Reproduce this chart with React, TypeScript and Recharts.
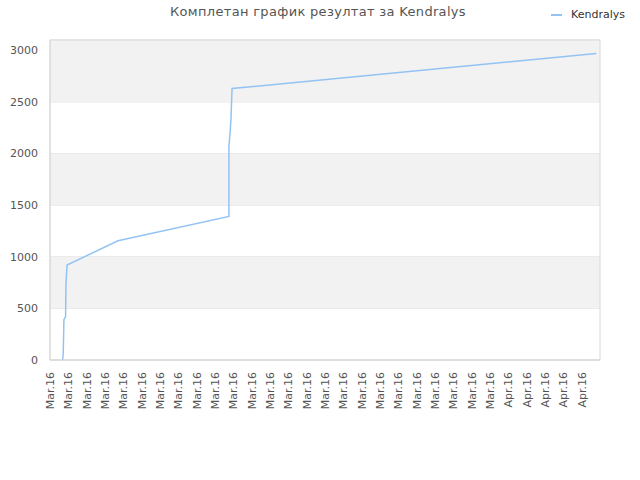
import React from 'react';
import { LineChart, Line, XAxis, YAxis, CartesianGrid, ReferenceArea, Legend } from 'recharts';

const xPos = [0.69, 0.72, 0.76, 0.85, 0.87, 0.93, 3.71, 9.76, 9.76, 9.82, 9.87, 9.93, 29.8];
const scores = [0, 60, 390, 420, 730, 920, 1155, 1390, 2070, 2200, 2330, 2630, 2970];
const tickLabels = [
  'Mar.16', 'Mar.16', 'Mar.16', 'Mar.16', 'Mar.16', 'Mar.16', 'Mar.16', 'Mar.16', 'Mar.16', 'Mar.16',
  'Mar.16', 'Mar.16', 'Mar.16', 'Mar.16', 'Mar.16', 'Mar.16', 'Mar.16', 'Mar.16', 'Mar.16', 'Mar.16',
  'Mar.16', 'Mar.16', 'Mar.16', 'Mar.16', 'Mar.16', 'Apr.16', 'Apr.16', 'Apr.16', 'Apr.16', 'Apr.16',
];
const yTicks = [0, 500, 1000, 1500, 2000, 2500, 3000];
const bands = [
  [500, 1000],
  [1500, 2000],
  [2500, 3100],
];
const seriesName = 'Kendralys';
const title = 'Комплетан график резултат за Kendralys';

const data = xPos.map((x, i) => ({ x, score: scores[i] }));
const xTicks = tickLabels.map((_, i) => i);

const FONT = '"DejaVu Sans", sans-serif';

const XTick = (props: any) => {
  const { x, payload } = props;
  const label = tickLabels[payload.value] ?? '';
  const tx = x + 4;
  const ty = 372;
  return (
    <text x={tx} y={ty} transform={`rotate(-90, ${tx}, ${ty})`} textAnchor="end" fontSize={11} fill="#555" fontFamily={FONT}>
      {label}
    </text>
  );
};

const LegendContent = () => (
  <div style={{ position: 'absolute', left: 551, top: 8, display: 'flex', alignItems: 'center', fontFamily: FONT, fontSize: 11, color: '#333', whiteSpace: 'nowrap' }}>
    <span style={{ display: 'inline-block', width: 11, height: 2, background: '#93c3f3', marginRight: 9 }} />
    <span>{seriesName}</span>
  </div>
);

export default function App() {
  return (
    <div style={{ position: 'absolute', left: 0, top: 0, width: 640, height: 480, background: '#fff' }}>
      <div style={{ position: 'absolute', left: 0, top: 4, width: 636, textAlign: 'center', fontFamily: FONT, fontSize: 13, color: '#555', whiteSpace: 'nowrap', letterSpacing: '0.32px' }}>
        {title}
      </div>
      <LineChart width={640} height={480} data={data} margin={{ top: 40, right: 40, bottom: 60, left: 0 }}>
        {bands.map(([a, b], i) => (
          <ReferenceArea key={i} y1={a} y2={b} x1={0} x2={30} fill="#f2f2f2" fillOpacity={1} stroke="none" ifOverflow="hidden" />
        ))}
        <CartesianGrid vertical={false} stroke="#e0e0e0" />
        <ReferenceArea x1={0} x2={30} y1={0} y2={3100} fill="none" stroke="#d8d8d8" strokeWidth={1} />
        <XAxis
          type="number"
          dataKey="x"
          domain={[0, 30]}
          ticks={xTicks}
          interval={0}
          tick={<XTick />}
          tickLine={false}
          axisLine={{ stroke: '#d8d8d8' }}
          height={60}
        />
        <YAxis
          type="number"
          domain={[0, 3100]}
          ticks={yTicks}
          interval={0}
          width={50}
          tickLine={false}
          axisLine={{ stroke: '#d8d8d8' }}
          tick={{ fontSize: 11, fill: '#555', fontFamily: FONT }}
          tickMargin={6}
        />
        <Legend content={<LegendContent />} wrapperStyle={{ position: 'absolute', left: 0, top: 0, width: 640, height: 0 }} />
        <Line
          type="linear"
          dataKey="score"
          name={seriesName}
          stroke="#93c3f3"
          strokeWidth={1.5}
          dot={false}
          isAnimationActive={false}
        />
      </LineChart>
    </div>
  );
}
